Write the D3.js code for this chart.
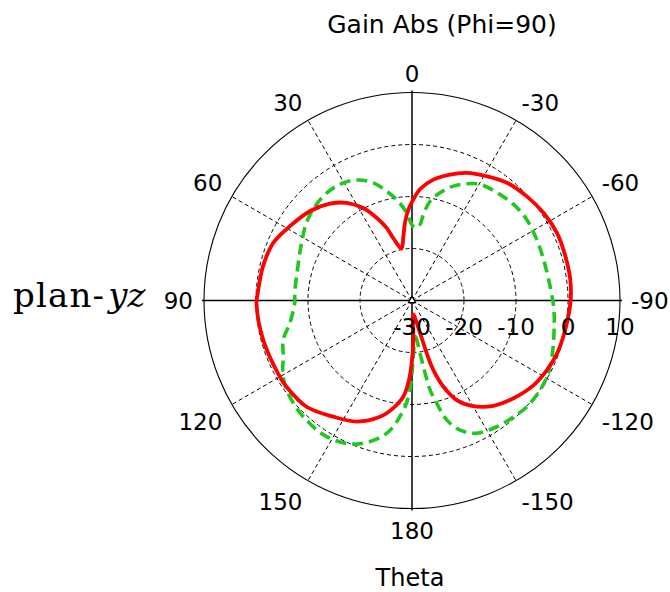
<!DOCTYPE html>
<html>
<head>
<meta charset="utf-8">
<script src="https://cdn.jsdelivr.net/npm/d3@7"></script>
<style>
  html, body { margin: 0; padding: 0; background: #fff; }
  svg { display: block; }
  text { font-family: "DejaVu Sans", Verdana, sans-serif; fill: #000; }
</style>
</head>
<body>
<script>
// ---- data (theta in degrees, gain in dB) ----
const redTheta = [-178, -175, -166, -164.4, -162.9, -160, -155.8, -150.4, -142.3, -133.9, -124.8, -117.2, -110, -100.8, -90, -82.5, -74, -65, -56.4, -47.8, -38.9, -31.1, -23.2, -16.8, -10, -4.2, -0.7, 2.3, 5.2, 7.7, 11.5, 16.7, 19.3, 23.2, 27.8, 33.8, 40.3, 48.9, 58.8, 67.5, 77.1, 87.2, 91, 104.8, 120, 124.5, 135.2, 145.8, 155.4, 164.6, 170.1, 174.8, 177.4, 179.7];
const redGain  = [-22.4, -27.3, -23.5, -19.5, -16.0, -12.4, -9.0, -6.7, -4.4, -2.9, -1.5, -0.8, -0.3, 0.0, 0.5, 0.7, 0.7, 0.75, 0.4, -0.2, -0.9, -2.1, -3.3, -4.7, -6.4, -8.5, -10.6, -12.5, -15.0, -17.6, -19.8, -17.5, -15.2, -12.7, -9.9, -7.4, -5.6, -3.9, -2.5, -1.1, -0.6, -0.3, -0.1, -0.4, -0.65, -0.7, -1.2, -3.0, -4.4, -6.8, -9.0, -11.4, -14.1, -17.9];

const greenTheta = [-178.7, -174.5, -171.4, -169.8, -168.6, -166.5, -163.8, -159.6, -154, -146.1, -138.9, -132.7, -124.9, -119.4, -111.8, -99, -92.4, -84.2, -72.8, -64, -54.9, -46.6, -38.3, -30.4, -25.1, -19.9, -14.6, -10.3, -7.5, -6, -2.4, 0.2, 3.5, 7.9, 13.1, 18.2, 24.7, 31.9, 38.5, 45.9, 53.7, 62.5, 73.4, 86.4, 91, 100.5, 107, 113.5, 120.6, 128.2, 136.9, 147.9, 158.9, 169.2, 176.2, 178.7, 180];
const greenGain  = [-19.2, -23.0, -19.75, -15.8, -12.45, -9.7, -6.1, -3.4, -1.6, -0.75, -0.3, 0.1, 0.05, -0.2, -1.0, -2.3, -2.75, -3.3, -3.5, -3.3, -3.0, -3.1, -3.6, -4.1, -5.2, -6.6, -8.6, -10.6, -13.35, -15.3, -16.0, -15.4, -13.1, -10.75, -8.4, -6.2, -4.5, -3.7, -3.6, -4.0, -4.8, -6.05, -7.1, -7.4, -7.45, -6.1, -4.1, -3.0, -1.2, -0.1, 0.6, 0.9, -0.4, -4.0, -9.5, -12.8, -16.0];

const angleTicks  = [0, 30, 60, 90, 120, 150, 180, -150, -120, -90, -60, -30];
const radialTicks = [-30, -20, -10, 0, 10];

const titleText = "Gain Abs (Phi=90)";
const axisTitle = "Theta";

// ---- layout ----
const W = 670, H = 592, cx = 412, cy = 300.5, R = 208;
const r = d3.scaleLinear().domain([radialTicks[0], radialTicks[radialTicks.length - 1]]).range([0, R]);
const rad = a => a * Math.PI / 180;
const px = (a, rr) => -rr * Math.sin(rad(a));
const py = (a, rr) => -rr * Math.cos(rad(a));

const svg = d3.select("body").append("svg").attr("width", W).attr("height", H);
svg.append("rect").attr("width", W).attr("height", H).attr("fill", "#fff");

const g = svg.append("g").attr("transform", `translate(${cx},${cy})`);

// dashed grid circles
g.selectAll("circle.grid")
  .data(radialTicks.slice(1, -1))
  .join("circle")
  .attr("r", d => r(d))
  .attr("fill", "none").attr("stroke", "#000").attr("stroke-width", 1)
  .attr("stroke-dasharray", "4,3");

// dashed spokes
g.selectAll("line.spoke")
  .data(angleTicks.filter(a => a % 90 !== 0))
  .join("line")
  .attr("x1", 0).attr("y1", 0)
  .attr("x2", d => px(d, R)).attr("y2", d => py(d, R))
  .attr("stroke", "#000").attr("stroke-width", 1).attr("stroke-dasharray", "4,3");

// outer circle
g.append("circle").attr("r", R).attr("fill", "none").attr("stroke", "#000").attr("stroke-width", 1.1);

// solid axes
g.selectAll("line.axis")
  .data([0, 90])
  .join("line")
  .attr("x1", d => px(d, R + 2)).attr("y1", d => py(d, R + 2))
  .attr("x2", d => px(d + 180, R + 2)).attr("y2", d => py(d + 180, R + 2))
  .attr("stroke", "#000").attr("stroke-width", 1.5);

// curves
const lineGen = d3.lineRadial()
  .angle(d => -rad(d[0]))
  .radius(d => r(d[1]))
  .curve(d3.curveCatmullRomClosed.alpha(0.5));

const greenData = greenTheta.map((t, i) => [t, greenGain[i]]);
const redData = redTheta.map((t, i) => [t, redGain[i]]);

g.append("path").attr("d", lineGen(greenData))
  .attr("fill", "none").attr("stroke", "#1fc81f").attr("stroke-width", 3.6)
  .attr("stroke-dasharray", "11,6").attr("stroke-linejoin", "round");

g.append("path").attr("d", lineGen(redData))
  .attr("fill", "none").attr("stroke", "#ff0000").attr("stroke-width", 3.8)
  .attr("stroke-linejoin", "round");

// center marker
g.append("path").attr("d", d3.symbol(d3.symbolTriangle, 22)())
  .attr("fill", "#fff").attr("stroke", "#000").attr("stroke-width", 1.2);

// angle labels
const fs = 23, capH = fs * 0.73, labD = 219;
angleTicks.forEach(a => {
  const t = g.append("text").attr("font-size", fs).attr("text-anchor", "middle").text(String(a));
  const w = t.node().getComputedTextLength();
  const ux = Math.abs(Math.sin(rad(a))) < 1e-6 ? 0 : -Math.sign(Math.sin(rad(a)));
  const uy = Math.abs(Math.cos(rad(a))) < 1e-6 ? 0 : -Math.sign(Math.cos(rad(a)));
  const X = px(a, labD) + ux * w / 2;
  const Y = py(a, labD) + uy * capH / 2 + (uy > 0 ? 3 : 0);
  t.attr("x", X).attr("y", Y + capH / 2);
});

// radial labels
g.selectAll("text.rlab")
  .data(radialTicks)
  .join("text")
  .attr("font-size", fs).attr("text-anchor", "middle")
  .attr("x", d => r(d)).attr("y", 34)
  .text(d => String(d));

// titles
svg.append("text").attr("x", 442).attr("y", 33).attr("font-size", 25).attr("text-anchor", "middle").text(titleText);
svg.append("text").attr("x", 410).attr("y", 586).attr("font-size", 24).attr("text-anchor", "middle").text(axisTitle);

const pl = svg.append("text").attr("x", 13).attr("y", 307)
  .style("font-family", "'DejaVu Serif', 'Liberation Serif', serif").attr("font-size", 34)
  .attr("letter-spacing", 1.2);
pl.append("tspan").text("plan-");
pl.append("tspan").attr("dx", 3).attr("font-style", "italic").attr("letter-spacing", 0).text("yz");
</script>
</body>
</html>
